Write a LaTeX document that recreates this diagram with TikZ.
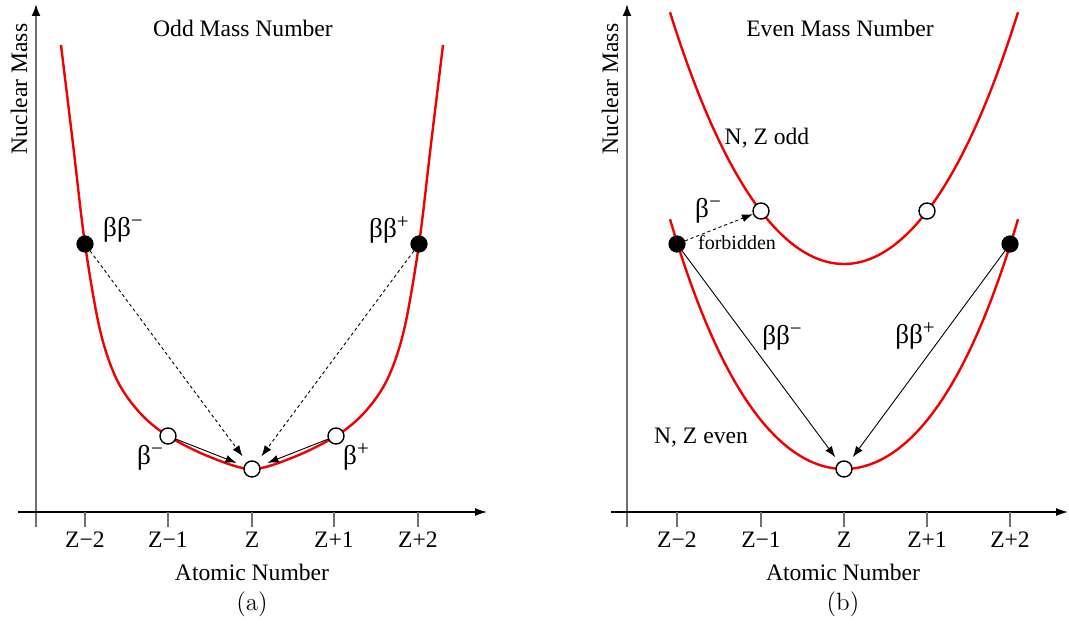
\documentclass[tikz,border=0pt]{standalone}
\usepackage{fontspec}
\newfontfamily\tnr{Liberation Serif}
\usetikzlibrary{arrows.meta}
\definecolor{axgray}{RGB}{112,112,112}
\definecolor{curvered}{RGB}{240,0,0}
\newcommand{\supm}[1]{\raisebox{0.75ex}{\fontsize{10.5pt}{12pt}\selectfont #1}}
\tikzset{
  lbl/.style={font=\tnr\fontsize{11.8pt}{14pt}\selectfont, inner sep=0pt},
  grk/.style={font=\tnr\fontsize{13.6pt}{16pt}\selectfont, inner sep=0pt},
  smalllbl/.style={font=\tnr\fontsize{10pt}{12pt}\selectfont, inner sep=0pt},
  caplbl/.style={font=\fontsize{12.5pt}{15pt}\selectfont, inner sep=0pt},
  xax/.style={line width=0.65pt, draw=black, -{Latex[length=6pt,width=4pt]}},
  yax/.style={line width=1pt, draw=axgray, -{Latex[length=6pt,width=4.5pt,color=black]}},
  tick/.style={line width=0.75pt, draw=axgray},
  curve/.style={line width=1.2pt, draw=curvered},
  fdot/.style={circle, fill=black, draw=black, line width=0.6pt, minimum size=8pt, inner sep=0pt},
  odot/.style={circle, fill=white, draw=black, line width=0.7pt, minimum size=8pt, inner sep=0pt},
  arr/.style={line width=0.45pt, -{Latex[length=5.5pt,width=4pt]}},
  darr/.style={arr, dash pattern=on 1.6pt off 1.4pt}
}
\begin{document}
\begin{tikzpicture}[x=0.5pt,y=-0.5pt]
\useasboundingbox (0,0) rectangle (1069,625);
\fill[white] (0,0) rectangle (1069,625);

% ---------------- Left panel (a) ----------------
\draw[yax] (36,527) -- (36,4);
\draw[xax] (18,512) -- (487,512);
\foreach \t/\lab/\n in {85/Z−2/a1,168/Z−1/a2,252/Z/a3,334/Z+1/a4,418/Z+2/a5}{
  \draw[tick] (\t,512) -- (\t,527);
  \node[lbl] (t\n) at (\t,540) {\lab};
}
\node[lbl] (xlabA) at (252,572) {Atomic Number};
\node[caplbl] (capA) at (252,604) {(a)};
\node[lbl, rotate=90] (ylabA) at (19,89) {Nuclear Mass};
\node[lbl] (titleA) at (243,28) {Odd Mass Number};

\draw[curve] plot[smooth, tension=0.55] coordinates {(61,45) (73,144) (85,244) (100,330) (117,380) (140,413) (168,436) (210,457) (252,469) (294,457) (336,436) (364,413) (387,380) (404,330) (419,244) (431,144) (443,45)};

\node[fdot] (lm2) at (85,244) {};
\node[odot] (lm1) at (168,436) {};
\node[odot] (l0) at (252,469) {};
\node[odot] (lp1) at (336,436) {};
\node[fdot] (lp2) at (419,244) {};

\draw[darr, shorten >=3.5pt] (lm2) -- (l0);
\draw[darr, shorten >=3.5pt] (lp2) -- (l0);
\draw[arr, shorten >=4pt] (lm1) -- (l0);
\draw[arr, shorten >=4pt] (lp1) -- (l0);

\node[grk] (lbbm) at (123,230) {ββ\supm{−}};
\node[grk] (lbbp) at (389,230) {ββ\supm{+}};
\node[grk] (lbm) at (150,458) {β\supm{−}};
\node[grk] (lbp) at (356,457) {β\supm{+}};

% ---------------- Right panel (b) ----------------
\draw[yax] (627,527) -- (627,4);
\draw[xax] (611,512) -- (1068,512);
\foreach \t/\lab/\n in {677/Z−2/b1,761/Z−1/b2,844/Z/b3,927/Z+1/b4,1010/Z+2/b5}{
  \draw[tick] (\t,512) -- (\t,527);
  \node[lbl] (t\n) at (\t,540) {\lab};
}
\node[lbl] (xlabB) at (843,572) {Atomic Number};
\node[caplbl] (capB) at (843,604) {(b)};
\node[lbl, rotate=90] (ylabB) at (610,89) {Nuclear Mass};
\node[lbl] (titleB) at (840,28) {Even Mass Number};

\draw[curve] plot[domain=670:1018, samples=120] (\x, {264-51.6*((\x-844)/83.25)^2-1.38*((\x-844)/83.25)^4});
\draw[curve] plot[domain=670:1018, samples=120] (\x, {469-46.6*((\x-844)/83.25)^2-2.42*((\x-844)/83.25)^4});

\node[fdot] (rm2) at (677,244) {};
\node[odot] (rm1) at (761,211) {};
\node[odot] (rp1) at (927,211) {};
\node[odot] (r0) at (844,469) {};
\node[fdot] (rp2) at (1010,244) {};

\draw[darr] (rm2) -- (rm1);
\draw[arr, shorten >=3pt] (rm2) -- (r0);
\draw[arr, shorten >=3pt] (rp2) -- (r0);

\node[grk] (rbm) at (708,211) {β\supm{−}};
\node[smalllbl] (rforb) at (737,243) {forbidden};
\node[grk] (rbbm) at (782,338) {ββ\supm{−}};
\node[grk] (rbbp) at (915,336) {ββ\supm{+}};
\node[lbl] (rodd) at (767,138) {N, Z odd};
\node[lbl] (reven) at (701,438) {N, Z even};
\end{tikzpicture}
\end{document}
